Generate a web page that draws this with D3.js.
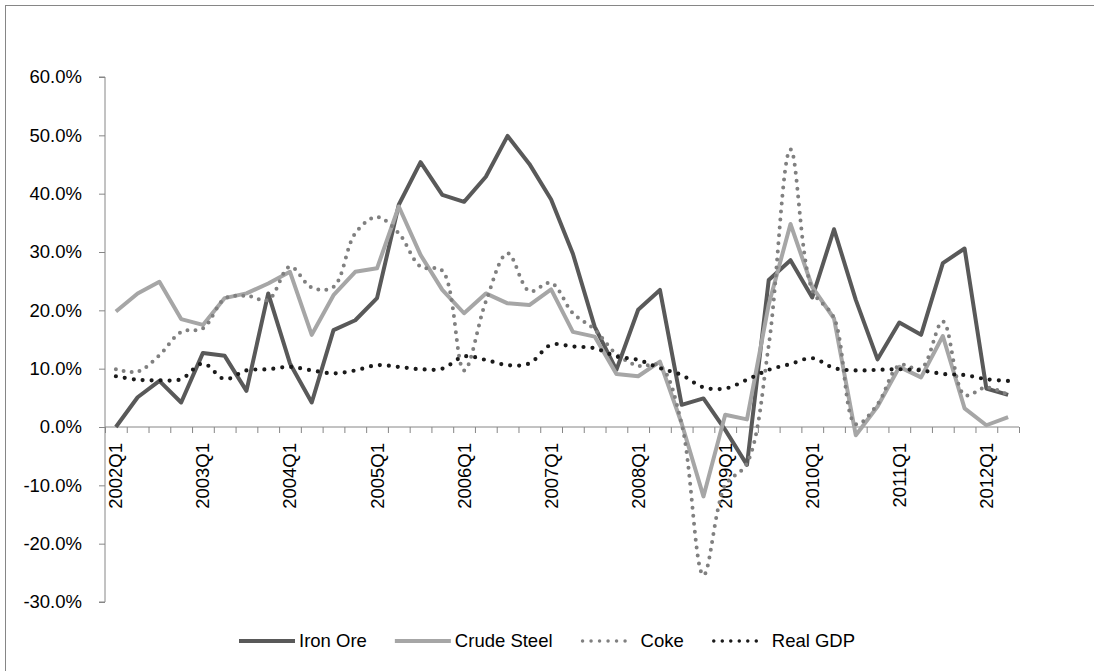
<!DOCTYPE html>
<html>
<head>
<meta charset="utf-8">
<script src="https://cdn.jsdelivr.net/npm/d3@7"></script>
<style>
  body { margin: 0; background: #fff; }
  text { font-family: "Liberation Sans", Arial, sans-serif; fill: #000; }
</style>
</head>
<body>
<svg width="1094" height="671"></svg>
<script>
const width = 1094, height = 671;

// quarters on the category axis
const quarters = [
  "2002Q1","2002Q2","2002Q3","2002Q4","2003Q1","2003Q2","2003Q3","2003Q4",
  "2004Q1","2004Q2","2004Q3","2004Q4","2005Q1","2005Q2","2005Q3","2005Q4",
  "2006Q1","2006Q2","2006Q3","2006Q4","2007Q1","2007Q2","2007Q3","2007Q4",
  "2008Q1","2008Q2","2008Q3","2008Q4","2009Q1","2009Q2","2009Q3","2009Q4",
  "2010Q1","2010Q2","2010Q3","2010Q4","2011Q1","2011Q2","2011Q3","2011Q4",
  "2012Q1","2012Q2"
];

// growth rates, percent
const ironOre = [0, 5.1, 7.9, 4.2, 12.7, 12.2, 6.2, 22.9, 10.9, 4.2, 16.6, 18.3, 22.1, 38.1, 45.4, 39.8,
  38.6, 42.9, 49.9, 45.1, 39.0, 29.7, 17.2, 9.8, 20.1, 23.5, 3.8, 4.9, -0.5, -6.5, 25.2, 28.6,
  22.2, 33.9, 21.8, 11.6, 17.9, 15.8, 28.1, 30.6, 6.6, 5.5];
const crudeSteel = [19.8, 22.9, 24.9, 18.5, 17.5, 22.1, 22.9, 24.6, 26.6, 15.8, 22.6, 26.6, 27.2, 37.8, 29.5, 23.5,
  19.5, 22.9, 21.2, 20.9, 23.6, 16.3, 15.5, 9.1, 8.7, 11.2, 0.6, -11.9, 2.1, 1.3, 21.0, 34.8,
  24.0, 18.6, -1.4, 3.5, 10.3, 8.5, 15.6, 3.2, 0.3, 1.7];
const coke = [9.9, 9.5, 12.3, 16.3, 16.9, 22.0, 22.5, 21.8, 27.5, 23.9, 24.0, 33.2, 36.0, 33.2, 27.5, 26.8,
  9.7, 21.5, 29.8, 23.3, 24.7, 19.5, 16.7, 12.5, 10.5, 10.5, 0.5, -25.4, -10.0, -6.2, 14.0, 47.6,
  23.5, 18.7, 0.5, 3.9, 10.6, 10.0, 18.1, 5.5, 6.8, 5.5];
const realGDP = [8.7, 8.1, 8.0, 8.2, 10.9, 8.2, 9.7, 9.9, 10.3, 9.7, 9.2, 9.7, 10.6, 10.3, 9.9, 10.0,
  12.1, 11.5, 10.6, 10.9, 14.1, 13.8, 13.5, 12.1, 11.5, 10.1, 8.9, 6.8, 6.6, 8.1, 9.8, 10.8,
  11.8, 10.1, 9.7, 9.8, 9.9, 9.7, 9.1, 8.9, 8.2, 7.9];

const yTicks = [-30, -20, -10, 0, 10, 20, 30, 40, 50, 60];

const seriesNames = ["Iron Ore", "Crude Steel", "Coke", "Real GDP"];
const seriesColors = ["#595959", "#a6a6a6", "#808080", "#1a1a1a"];

const series = [
  { name: seriesNames[0], values: ironOre, color: seriesColors[0], dash: null, width: 4, smooth: false },
  { name: seriesNames[1], values: crudeSteel, color: seriesColors[1], dash: null, width: 4, smooth: false },
  { name: seriesNames[2], values: coke, color: seriesColors[2], dash: "0,8", width: 4, smooth: true },
  { name: seriesNames[3], values: realGDP, color: seriesColors[3], dash: "0,9", width: 4.2, smooth: true }
];

const svg = d3.select("svg");
const axisColor = "#868686";

// chart frame
svg.append("rect")
  .attr("x", 5.5).attr("y", 5.5)
  .attr("width", width + 20).attr("height", height + 20)
  .attr("fill", "none").attr("stroke", axisColor);

const plotLeft = 105, plotRight = 1019, plotTop = 77, plotBottom = 602;

const x = d3.scaleBand().domain(quarters).range([plotLeft, plotRight]).padding(0);
const xEdges = d3.scaleLinear().domain([0, quarters.length]).range([plotLeft, plotRight]);
const y = d3.scaleLinear().domain([-30, 60]).range([plotBottom, plotTop]);
const cx = q => x(q) + x.bandwidth() / 2;

// y axis
const yAxis = svg.append("g")
  .attr("transform", `translate(${plotLeft},0)`)
  .call(d3.axisLeft(y).tickValues(yTicks).tickSize(6).tickPadding(17)
    .tickFormat(d => d.toFixed(1) + "%"));
yAxis.selectAll("path, line").attr("stroke", axisColor);
yAxis.select(".domain").attr("d", `M-6,${plotTop}H0V${plotBottom}H-6`);
yAxis.selectAll("text").style("font-size", "18.5px").attr("fill", "#000");

// x axis at zero, ticks between categories
const xAxis = svg.append("g")
  .attr("transform", `translate(0,${y(0)})`)
  .call(d3.axisBottom(xEdges).tickValues(d3.range(quarters.length + 1)).tickSize(6).tickFormat(""));
xAxis.selectAll("path, line").attr("stroke", axisColor);
xAxis.select(".domain").attr("d", `M${plotLeft},0H${plotRight}`);

svg.append("g").selectAll("text")
  .data(quarters.filter(q => q.endsWith("Q1")))
  .join("text")
  .attr("transform", q => `translate(${cx(q)},${y(0) + 16}) rotate(-90)`)
  .attr("text-anchor", "end")
  .attr("dy", "0.35em")
  .style("font-size", "18.5px")
  .text(q => q);

// lines
series.forEach(s => {
  const line = d3.line()
    .x((d, i) => cx(quarters[i]))
    .y(d => y(d))
    .curve(s.smooth ? d3.curveCatmullRom : d3.curveLinear);
  svg.append("path")
    .datum(s.values)
    .attr("d", line)
    .attr("fill", "none")
    .attr("stroke", s.color)
    .attr("stroke-width", s.width)
    .attr("stroke-linejoin", "round")
    .attr("stroke-linecap", s.dash ? "round" : "butt")
    .attr("stroke-dasharray", s.dash);
});

// legend
const legend = svg.append("g").attr("transform", "translate(239,641)");
let lx = 0;
series.forEach(s => {
  const g = legend.append("g").attr("transform", `translate(${lx},0)`);
  g.append("line")
    .attr("x1", s.dash ? 2 : 0).attr("x2", s.dash ? 52 : 56)
    .attr("stroke", s.color)
    .attr("stroke-width", s.dash ? 3.5 : 4)
    .attr("stroke-linecap", s.dash ? "round" : "butt")
    .attr("stroke-dasharray", s.dash ? "0,8.5" : null);
  const t = g.append("text")
    .attr("x", 60).attr("dy", "0.35em")
    .style("font-size", "18.5px")
    .text(s.name);
  lx += 60 + t.node().getComputedTextLength() + 28;
});
</script>
</body>
</html>
